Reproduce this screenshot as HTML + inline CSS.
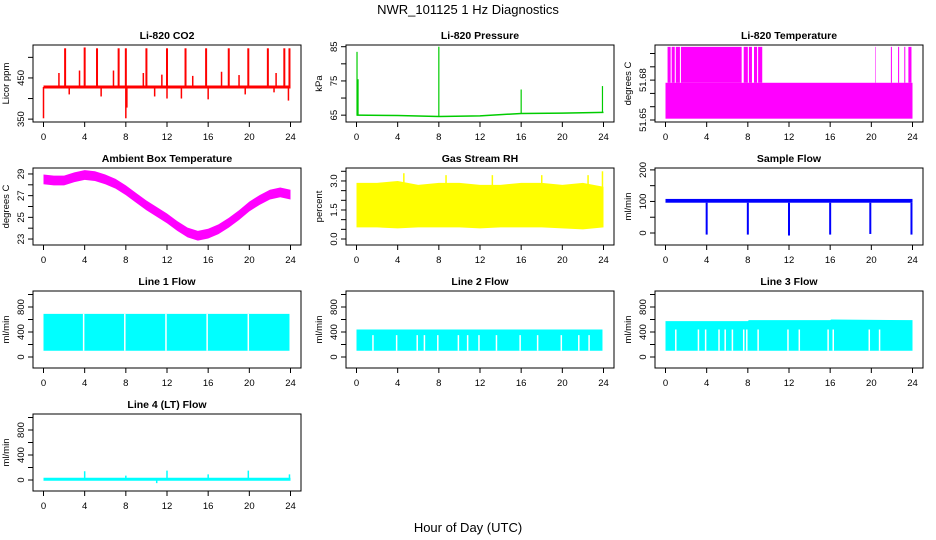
<!DOCTYPE html>
<html><head><meta charset="utf-8"><style>
body{margin:0;background:#fff}
svg{display:block;font-family:"Liberation Sans",sans-serif}
</style></head><body>
<svg id="c" width="936" height="540" viewBox="0 0 936 540" xmlns="http://www.w3.org/2000/svg">
<text x="468" y="14" text-anchor="middle" font-size="13">NWR_101125  1 Hz Diagnostics</text>
<text x="468" y="532" text-anchor="middle" font-size="13">Hour of Day (UTC)</text>
</svg>
<script>
// ---- data arrays ----
const hourTicks = [0,4,8,12,16,20,24];
const co2Base = 428;
const co2SpikeHours = [2.1,4.0,5.2,7.3,8.0,10.0,12.0,13.8,15.8,18.0,19.9,21.8,23.4,23.9];
const co2SpikeVals = [522,524,522,522,522,522,522,522,522,522,522,522,522,522];
const co2SmallHours = [1.5,3.5,6.8,9.7,11.5,14.5,17.3,19.0,22.6];
const co2SmallVals = [462,468,468,462,458,455,465,457,462];
const co2DipHours = [0.0,2.5,5.6,8.0,8.1,10.8,12.0,13.4,16.0,19.6,22.4,23.8];
const co2DipVals = [352,410,405,352,378,405,400,400,398,410,415,395];
const presHours = [0,4,8,12,16,20,24];
const presBase = [65.0,64.9,64.6,64.8,65.5,65.6,65.8];
const presSpikeHours = [0.05,0.15,8.0,16.0,23.9];
const presSpikeVals = [83.5,75.5,85.0,72.5,73.5];
const tempLow = 51.651, tempMid = 51.678, tempHigh = 51.705;
const tempBurstStart = [0.2,0.6,1.0,1.5,7.6,8.1,8.6,9.0,20.4,21.9,22.6,23.2,23.6];
const tempBurstEnd   = [0.5,0.9,1.4,7.4,8.0,8.4,8.9,9.4,20.45,22.0,22.7,23.3,23.9];
const ambHours = [0,1,2,3,4,5,6,7,8,9,10,11,12,13,14,15,16,17,18,19,20,21,22,23,24];
const ambMid = [28.5,28.4,28.4,28.7,28.9,28.8,28.5,28.1,27.5,26.8,26.1,25.5,24.9,24.2,23.6,23.3,23.5,23.9,24.5,25.2,26.0,26.6,27.1,27.3,27.1];
const ambHalf = 0.45;
const rhHours = [0,2,4,6,8,10,12,14,16,18,20,22,24];
const rhUpper = [2.9,2.9,3.0,2.8,2.9,2.9,2.8,2.8,2.9,2.9,2.8,2.9,2.7];
const rhLower = [0.6,0.6,0.55,0.6,0.6,0.6,0.55,0.6,0.6,0.6,0.55,0.5,0.6];
const rhPeakHours = [4.6,8.7,13.2,18.0,22.5,23.9];
const rhPeakVals = [3.4,3.3,3.3,3.3,3.3,3.5];
const sfLow = 96, sfHigh = 108;
const sfDipHours = [4.0,8.0,12.0,16.0,19.9,23.9];
const sfDipVals = [-5,-5,-8,-5,-3,-5];
const l1Low = 100, l1High = 690;
const l1Gaps = [3.9,7.9,11.9,15.9,19.9];
const l2Low = 100, l2High = 440;
const l2Gaps = [1.6,3.9,5.9,6.6,7.9,9.9,10.8,11.9,13.6,15.9,17.6,19.9,21.6,22.6];
const l3Hours = [0,8,8.1,16,16.1,24];
const l3High = [575,575,590,590,600,590];
const l3Low = 100;
const l3Gaps = [1.0,3.2,3.9,5.2,5.8,6.5,7.6,7.9,9.0,11.9,13.0,15.8,16.3,19.8,20.8];
const l4Base = 12;
const l4SpikeHours = [4.0,8.0,11.0,12.0,16.0,19.9,23.9];
const l4SpikeVals = [140,70,-50,150,90,150,90];

// ---- layout ----
const svg = document.getElementById('c');
const NS = 'http://www.w3.org/2000/svg';
const colL = [33,346,655], W = 268, rowT = [45,168,291,414], H = 77;
function mk(tag, attrs, parent){const e=document.createElementNS(NS,tag);for(const k in attrs)e.setAttribute(k,attrs[k]);(parent||svg).appendChild(e);return e;}

function panel(c,r,title,ylab,dom,ticks,labels,name){
  const L=colL[c],T=rowT[r],B=T+H;
  const g=mk('g',{});
  
  
  const sx=h=>L+10.5+h/24*(W-21);
  const sy=v=>B-(v-dom[0])/(dom[1]-dom[0])*H;
  const t=mk('text',{x:L+W/2,y:T-6,'text-anchor':'middle','font-size':'10.5','font-weight':'bold'},g);
  t.textContent=title;
  
  
  const box=mk('rect',{x:L,y:T,width:W,height:H,fill:'none',stroke:'#000','stroke-width':1},g);
  
  
  const xa=mk('g',{},g);
  
  
  hourTicks.forEach(h=>{
    mk('line',{x1:sx(h),x2:sx(h),y1:B,y2:B+5,stroke:'#000'},xa);
    const tx=mk('text',{x:sx(h),y:B+18,'text-anchor':'middle','font-size':'9.5'},xa);
    tx.textContent=h;
  });
  const ya=mk('g',{},g);
  
  
  ticks.forEach(v=>mk('line',{x1:L-5,x2:L,y1:sy(v),y2:sy(v),stroke:'#000'},ya));
  labels.forEach(v=>{
    const y=sy(parseFloat(v));
    const tx=mk('text',{x:L-9,y:y,'text-anchor':'middle','font-size':'9.5',transform:`rotate(-90 ${L-9} ${y})`},ya);
    tx.textContent=v;
  });
  const yt=mk('text',{x:L-24,y:T+H/2,'text-anchor':'middle','font-size':'9.5',transform:`rotate(-90 ${L-24} ${T+H/2})`},g);
  yt.textContent=ylab;
  
  
  const s=mk('g',{},g);
  
  
  return {sx,sy,s};
}
function vline(p,h,v1,v2,col,w){mk('line',{x1:p.sx(h),x2:p.sx(h),y1:p.sy(v1),y2:p.sy(v2),stroke:col,'stroke-width':w||1.5},p.s);}
function band(p,x0,x1,lo,hi,col){mk('rect',{x:p.sx(x0),y:p.sy(hi),width:p.sx(x1)-p.sx(x0),height:p.sy(lo)-p.sy(hi),fill:col},p.s);}
function poly(p,xs,up,lo,col){
  let pts=xs.map((h,i)=>p.sx(h)+','+p.sy(up[i]));
  for(let i=xs.length-1;i>=0;i--)pts.push(p.sx(xs[i])+','+p.sy(lo[i]));
  mk('polygon',{points:pts.join(' '),fill:col},p.s);
}
function path(p,xs,ys,col,w){mk('polyline',{points:xs.map((h,i)=>p.sx(h)+','+p.sy(ys[i])).join(' '),fill:'none',stroke:col,'stroke-width':w},p.s);}

// CO2
let p=panel(0,0,'Li-820 CO2','Licor ppm',[343,530],[350,400,450,500],['350','450'],'co2');
co2SpikeHours.forEach((h,i)=>vline(p,h,co2Base,co2SpikeVals[i],'#f00',2));
co2SmallHours.forEach((h,i)=>vline(p,h,co2Base,co2SmallVals[i],'#f00',1.5));
co2DipHours.forEach((h,i)=>vline(p,h,co2Base,co2DipVals[i],'#f00',1.5));
path(p,[0,24],[co2Base,co2Base],'#f00',3);

// Pressure
p=panel(1,0,'Li-820 Pressure','kPa',[63,85.5],[65,70,75,80,85],['65','75','85'],'pressure');
path(p,presHours,presBase,'#0c0',1.5);
presSpikeHours.forEach((h,i)=>vline(p,h,presBase[Math.min(6,Math.round(h/4))],presSpikeVals[i],'#0c0',1.2));

// Temperature
p=panel(2,0,'Li-820 Temperature','degrees C',[51.6485,51.7064],[51.65,51.66,51.67,51.68,51.69,51.70],['51.65','51.68'],'li820-temp');
band(p,0,24,tempLow,tempMid,'#f0f');
tempBurstStart.forEach((s,i)=>band(p,s,tempBurstEnd[i],tempMid,tempHigh,'#f0f'));

// Ambient
p=panel(0,1,'Ambient Box Temperature','degrees C',[22.45,29.55],[23,24,25,26,27,28,29],['23','25','27','29'],'ambient-temp');
poly(p,ambHours,ambMid.map(v=>v+ambHalf),ambMid.map(v=>v-ambHalf),'#f0f');

// RH
p=panel(1,1,'Gas Stream RH','percent',[-0.31,3.67],[0,0.5,1,1.5,2,2.5,3,3.5],['0.0','1.5','3.0'],'rh');
poly(p,rhHours,rhUpper,rhLower,'#ff0');
rhPeakHours.forEach((h,i)=>vline(p,h,2,rhPeakVals[i],'#ff0',1.5));

// Sample flow
p=panel(2,1,'Sample Flow','ml/min',[-38,206],[0,50,100,150,200],['0','100','200'],'sample-flow');
band(p,0,24,sfLow,sfHigh,'#00f');
sfDipHours.forEach((h,i)=>vline(p,h,sfLow,sfDipVals[i],'#00f',2));

const fT=[0,200,400,600,800,1000], fL=['0','400','800'], fD=[-176,1056];
// Line 1
p=panel(0,2,'Line 1 Flow','ml/min',fD,fT,fL,'line1-flow');
band(p,0,23.9,l1Low,l1High,'#0ff');
l1Gaps.forEach(h=>vline(p,h,l1Low,l1High,'#fff',1.5));
// Line 2
p=panel(1,2,'Line 2 Flow','ml/min',fD,fT,fL,'line2-flow');
band(p,0,23.9,l2Low,l2High,'#0ff');
l2Gaps.forEach(h=>vline(p,h,l2Low,350,'#fff',1.5));
// Line 3
p=panel(2,2,'Line 3 Flow','ml/min',fD,fT,fL,'line3-flow');
poly(p,l3Hours,l3High,l3Hours.map(()=>l3Low),'#0ff');
l3Gaps.forEach(h=>vline(p,h,l3Low,440,'#fff',1.5));
// Line 4
p=panel(0,3,'Line 4 (LT) Flow','ml/min',fD,fT,fL,'line4-flow');
path(p,[0,24],[l4Base,l4Base],'#0ff',3);
l4SpikeHours.forEach((h,i)=>vline(p,h,l4Base,l4SpikeVals[i],'#0ff',1.5));
</script>
</body></html>
